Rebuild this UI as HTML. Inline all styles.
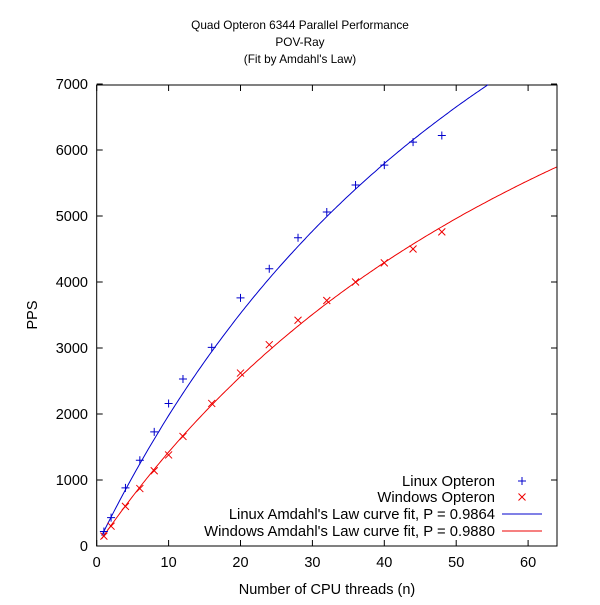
<!DOCTYPE html>
<html><head><meta charset="utf-8"><style>
body{margin:0;background:#fff;}
svg text{font-family:"Liberation Sans",sans-serif;font-size:14.5px;fill:#000;}
svg text.t{font-size:11.8px;}
svg text.l{font-size:14.8px;}
</style></head><body>
<svg id="s" width="600" height="600" xmlns="http://www.w3.org/2000/svg">
<text class="t" x="300" y="29" text-anchor="middle">Quad Opteron 6344 Parallel Performance</text>
<text class="t" x="300" y="46" text-anchor="middle">POV-Ray</text>
<text class="t" x="300" y="63" text-anchor="middle">(Fit by Amdahl's Law)</text>
<text x="327" y="594" text-anchor="middle">Number of CPU threads (n)</text>
<text transform="translate(37,315) rotate(-90)" text-anchor="middle">PPS</text>
<rect x="96.7" y="85" width="460.3" height="461" fill="none" stroke="#000" stroke-width="1"/>
<g text-anchor="end">
<text class="l" x="495" y="486">Linux Opteron</text>
<text class="l" x="495" y="502">Windows Opteron</text>
<text class="l" x="495" y="519">Linux Amdahl's Law curve fit, P = 0.9864</text>
<text class="l" x="495" y="536">Windows Amdahl's Law curve fit, P = 0.9880</text>
</g>
<line x1="502" y1="531" x2="542" y2="531" stroke="#e00" stroke-width="1"/>
<line x1="502" y1="514" x2="542" y2="514" stroke="#00c" stroke-width="1"/>
</svg>
<script>
var s=document.getElementById('s'),ns='http://www.w3.org/2000/svg';
function X(n){return 96.7+n*7.19}function Y(v){return 546-v*0.066}
function el(t,a,txt){var e=document.createElementNS(ns,t);for(var k in a)e.setAttribute(k,a[k]);if(txt!=null)e.textContent=txt;s.appendChild(e);return e}
for(var i=0;i<=7;i++){var y=Y(i*1000);el('line',{x1:96.7,y1:y,x2:102.7,y2:y,stroke:'#000'});el('line',{x1:557,y1:y,x2:551,y2:y,stroke:'#000'});el('text',{x:88,y:y+5,'text-anchor':'end'},i*1000)}
for(var i=0;i<=6;i++){var x=X(i*10);el('line',{x1:x,y1:546,x2:x,y2:540,stroke:'#000'});el('line',{x1:x,y1:85,x2:x,y2:91,stroke:'#000'});el('text',{x:x,y:567,'text-anchor':'middle'},i*10)}
function curve(s1,P,c){var d='';for(var n=0.7;n<=64;n+=0.25){var v=s1/((1-P)+P/n);if(v>7000)break;d+=(d?'L':'M')+X(n).toFixed(1)+','+Y(v).toFixed(1)}el('path',{d:d,fill:'none',stroke:c,'stroke-width':1})}
curve(221.7,0.9864,'#00c');curve(157.6,0.988,'#e00');
var ns_=[1,2,4,6,8,10,12,16,20,24,28,32,36,40,44,48];
var L=[220,430,880,1300,1730,2160,2530,3010,3760,4200,4670,5060,5470,5770,6120,6220];
var W=[150,300,600,870,1140,1380,1660,2160,2620,3050,3420,3720,4000,4290,4500,4760];
function plus(x,y){el('path',{d:'M'+(x-4)+','+y+'h8M'+x+','+(y-4)+'v8',stroke:'#00c','stroke-width':1})}
function cross(x,y){el('path',{d:'M'+(x-3.5)+','+(y-3.5)+'l7,7M'+(x-3.5)+','+(y+3.5)+'l7,-7',stroke:'#e00','stroke-width':1})}
for(var i=0;i<ns_.length;i++){plus(X(ns_[i]),Y(L[i]));cross(X(ns_[i]),Y(W[i]))}
plus(522,481);cross(522,497);
</script>
</body></html>
